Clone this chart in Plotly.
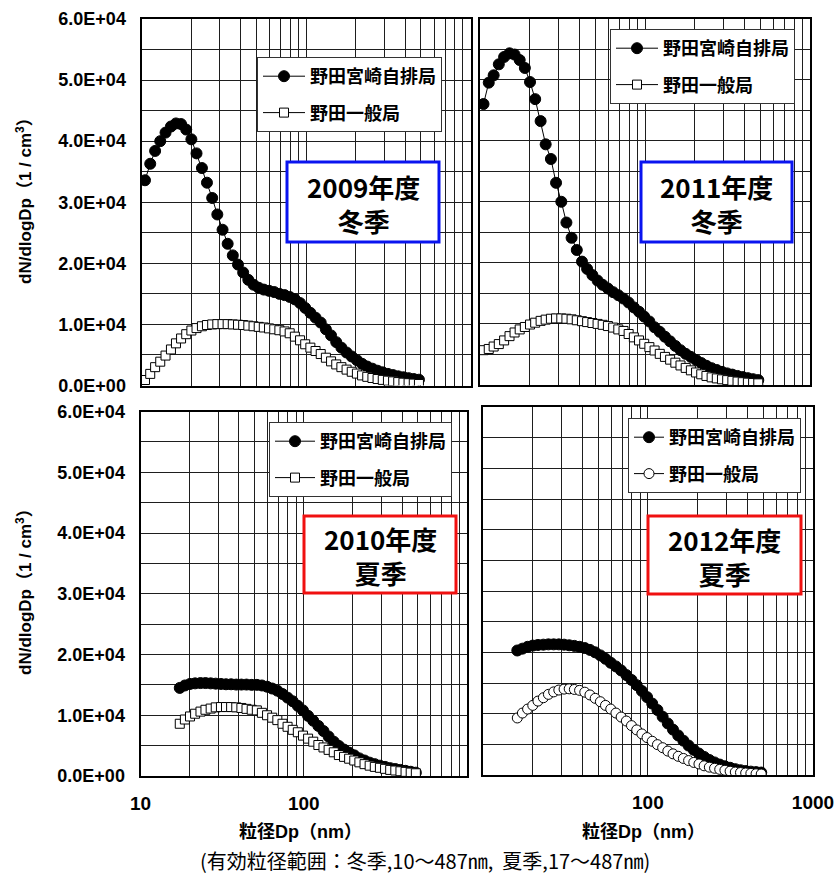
import plotly.graph_objects as go

W, H = 838, 876

# Particle diameter channels (nm)
dp_winter = [10.5, 11.3, 12.1, 13.0, 14.0, 15.1, 16.2, 17.4, 18.7, 20.1,
             21.6, 23.3, 25.0, 26.9, 28.9, 31.1, 33.4, 35.9, 38.6, 41.5,
             44.6, 48.0, 51.6, 55.4, 59.6, 64.1, 68.9, 74.1, 79.6, 85.6,
             92.0, 98.9, 106.3, 114.3, 122.9, 132.1, 142.0, 152.7, 164.1, 176.5,
             189.7, 203.9, 219.2, 235.7, 253.4, 272.4, 292.8, 314.8, 338.4, 363.8,
             391.1, 420.4, 452.0, 485.9]
dp_2010 = dp_winter[7:]
dp_2012 = dp_winter[6:]

# 2009 winter
road_2009 = [33600, 36300, 38400, 40000, 41400, 42400, 42900, 42800, 41900, 40300,
             38000, 35600, 33200, 30700, 28000, 25500, 23200, 21300, 19800, 18500,
             17300, 16500, 16000, 15700, 15500, 15300, 15000, 14800, 14500, 14100,
             13500, 12700, 11900, 11100, 10300, 9200, 8200, 7100, 6200, 5400,
             4750, 4150, 3550, 3100, 2750, 2420, 2150, 1900, 1700, 1500,
             1350, 1200, 1060, 950]
gen_2009 = [900, 1900, 3000, 3900, 4900, 5900, 6900, 7700, 8400, 9000,
            9400, 9700, 9900, 10000, 10050, 10050, 10050, 10000, 9950, 9900,
            9800, 9700, 9600, 9500, 9350, 9200, 9050, 8850, 8550, 8000,
            7400, 6750, 6200, 5650, 5150, 4550, 3950, 3450, 3000, 2600,
            2250, 1950, 1650, 1420, 1230, 1060, 920, 790, 680, 560,
            460, 380, 310, 250]

# 2011 winter
road_2011 = [46000, 49500, 50700, 52500, 53700, 54300, 54100, 53200, 51900, 49600,
             46800, 43200, 39400, 37000, 33100, 30000, 26600, 24100, 22100, 20200,
             19000, 18000, 17100, 16400, 15800, 15200, 14700, 14150, 13500, 12700,
             12000, 11200, 10400, 9450, 8700, 7900, 7150, 6400, 5700, 5100,
             4600, 4100, 3600, 3150, 2750, 2450, 2150, 1900, 1700, 1480,
             1300, 1120, 950, 800]
gen_2011 = [5700, 5900, 6300, 6700, 7300, 8000, 8600, 9100, 9500, 9900,
            10200, 10500, 10700, 10850, 10900, 10900, 10850, 10750, 10600, 10450,
            10300, 10150, 10000, 9850, 9650, 9400, 9100, 8850, 8350, 7800,
            7300, 6750, 6200, 5650, 5100, 4600, 4150, 3650, 3200, 2800,
            2400, 2050, 1750, 1480, 1250, 1080, 930, 800, 680, 560,
            460, 380, 320, 270]

# 2010 summer
road_2010 = [14500, 14900, 15150, 15250, 15300, 15300, 15250, 15200, 15150, 15100,
             15100, 15050, 15050, 15050, 15000, 15000, 14900, 14700, 14400, 14050,
             13500, 12900, 12300, 11550, 10800, 9900, 9100, 8250, 7400, 6500,
             5650, 4950, 4350, 3850, 3400, 2900, 2550, 2200, 1950, 1700,
             1500, 1290, 1150, 1000, 850, 700, 550]
gen_2010 = [8600, 9300, 9800, 10250, 10600, 10900, 11100, 11300, 11350, 11350,
            11350, 11300, 11200, 11050, 10900, 10800, 10400, 10000, 9600, 9200,
            8600, 8100, 7600, 7200, 6650, 6150, 5650, 5100, 4700, 4300,
            3900, 3450, 3150, 2850, 2550, 2250, 1950, 1700, 1500, 1350,
            1180, 1000, 900, 780, 680, 560, 450]

# 2012 summer
road_2012 = [20300, 20600, 20900, 21100, 21200, 21250, 21300, 21300, 21300, 21250,
             21150, 21050, 20900, 20700, 20400, 20000, 19500, 18950, 18300, 17700,
             17050, 16300, 15500, 14650, 13700, 12700, 11650, 10600, 9500, 8400,
             7400, 6450, 5600, 4800, 4100, 3500, 2950, 2450, 2050, 1700,
             1420, 1180, 950, 780, 650, 550, 470, 400]
gen_2012 = [9300, 10100, 10750, 11350, 12050, 12600, 13150, 13550, 13850, 14000,
            14050, 13950, 13800, 13500, 13050, 12500, 11950, 11350, 10750, 10100,
            9450, 8800, 8050, 7350, 6700, 6100, 5500, 4950, 4450, 3900,
            3450, 3050, 2700, 2350, 2050, 1800, 1500, 1280, 1100, 920,
            770, 620, 480, 400, 330, 260, 200, 160]

name_road = "野田宮崎自排局"
name_gen = "野田一般局"
panel_titles = ["2009年度<br>冬季", "2011年度<br>冬季",
                "2010年度<br>夏季", "2012年度<br>夏季"]

grid_x = [10, 20, 30, 40, 50, 60, 70, 80, 90,
          100, 200, 300, 400, 500, 600, 700, 800, 900, 1000]
grid_y = list(range(0, 60001, 5000))
y_labels = ["%.1fE+04" % (v / 10 ** 4) if v else "0.0E+00" for v in grid_y]
y_labels = [lab if v % 10000 == 0 else "" for v, lab in zip(grid_y, y_labels)]

LATIN = "Liberation Sans, Arial, Noto Sans CJK JP"
CJK = "Noto Sans CJK JP, Liberation Sans"


def fx(p):
    return p / W


def fy(p):
    return 1 - p / H


# plot areas in pixels: (left, right, top, bottom)
areas = [(141.5, 470.5, 19, 385.5), (480, 810, 18.5, 385),
         (140.5, 467, 411.5, 776), (482.7, 813, 407, 775)]
legend_pos = [(257, 57, 42), (610, 29, 42), (269, 422, 40), (628, 418, 30)]
box_pos = [(287, 439, 162, 242, "#0a14f0"), (641, 792, 162, 242, "#0a14f0"),
           (304, 456, 516, 593, "#f01010"), (648, 801, 516, 594, "#f01010")]

series = [(dp_winter, road_2009, dp_winter, gen_2009, "square"),
          (dp_winter, road_2011, dp_winter, gen_2011, "square"),
          (dp_2010, road_2010, dp_2010, gen_2010, "square"),
          (dp_2012, road_2012, dp_2012, gen_2012, "circle")]

fig = go.Figure()
for i, (xr, yr, xg, yg, sym) in enumerate(series):
    k = "" if i == 0 else str(i + 1)
    leg = "legend" + k
    fig.add_trace(go.Scatter(
        x=xr, y=yr, name=name_road, mode="lines+markers",
        xaxis="x" + k, yaxis="y" + k, legend=leg, legendgroup="r" + k,
        line=dict(color="black", width=1),
        marker=dict(symbol="circle", size=11, color="black",
                    line=dict(color="black", width=1))))
    fig.add_trace(go.Scatter(
        x=xg, y=yg, name=name_gen, mode="lines+markers",
        xaxis="x" + k, yaxis="y" + k, legend=leg, legendgroup="g" + k,
        line=dict(color="black", width=1),
        marker=dict(symbol=sym, size=10 if sym == "circle" else 9, color="white",
                    line=dict(color="black", width=1))))

layout = dict(template="none", width=W, height=H, autosize=False,
              margin=dict(l=0, r=0, t=0, b=0, pad=0, autoexpand=False),
              paper_bgcolor="white", plot_bgcolor="white", showlegend=True)

for i, (l, r, t, b) in enumerate(areas):
    k = "" if i == 0 else str(i + 1)
    left_col = i in (0, 2)
    bottom_row = i in (2, 3)
    if left_col:
        xt = ["10" if v == 10 else "100" if v == 100 else "" for v in grid_x]
    else:
        xt = ["100" if v == 100 else "1000" if v == 1000 else "" for v in grid_x]
    layout["xaxis" + k] = dict(
        type="log", range=[1, 3], domain=[fx(l), fx(r)], anchor="y" + k,
        automargin=False,
        tickmode="array", tickvals=grid_x, ticktext=xt,
        showticklabels=bottom_row, ticks="",
        tickfont=dict(family=LATIN, size=19, color="black", weight="bold"),
        ticklabelstandoff=9,
        showgrid=True, gridcolor="#1e1e1e", gridwidth=1,
        showline=True, linecolor="black", linewidth=2, mirror=True,
        zeroline=False)
    layout["yaxis" + k] = dict(
        range=[0, 60000], domain=[fy(b), fy(t)], anchor="x" + k,
        automargin=False,
        tickmode="array", tickvals=grid_y, ticktext=y_labels,
        showticklabels=left_col, ticks="",
        tickfont=dict(family=LATIN, size=18, color="black", weight="bold"),
        ticklabelstandoff=10,
        showgrid=True, gridcolor="#1e1e1e", gridwidth=1,
        showline=True, linecolor="black", linewidth=2, mirror=True,
        zeroline=False)
    lx, ly, iw = legend_pos[i]
    layout["legend" + k] = dict(
        x=fx(lx), y=fy(ly), xanchor="left", yanchor="top",
        xref="paper", yref="paper",
        bgcolor="white", bordercolor="#333333", borderwidth=1,
        font=dict(family=CJK, size=18, color="black", weight="bold"),
        tracegroupgap=10, itemwidth=iw)

fig.update_layout(**layout)

# Season / year label boxes
for (x0, x1, y0, y1, col), label in zip(box_pos, panel_titles):
    fig.add_shape(type="rect", xref="paper", yref="paper",
                  x0=fx(x0), x1=fx(x1), y0=fy(y1), y1=fy(y0),
                  line=dict(color=col, width=3), fillcolor="white", layer="above")
    fig.add_annotation(x=fx((x0 + x1) / 2), y=fy((y0 + y1) / 2 + 1),
                       xref="paper", yref="paper",
                       text=label, showarrow=False, xanchor="center", yanchor="middle",
                       font=dict(family=CJK, size=26, color="black", weight="bold"))

# Axis titles
for yc in (197, 588):
    fig.add_annotation(x=fx(24), y=fy(yc), xref="paper", yref="paper",
                       text="dN/dlogDp（1 / cm<sup>3</sup>）", textangle=-90, showarrow=False,
                       xanchor="center", yanchor="middle",
                       font=dict(family=LATIN, size=17, color="black", weight="bold"))
for xc in (300, 643):
    fig.add_annotation(x=fx(xc), y=fy(832), xref="paper", yref="paper",
                       text="粒径Dp（nm）", showarrow=False,
                       xanchor="center", yanchor="middle",
                       font=dict(family=LATIN, size=18, color="black", weight="bold"))

fig.add_annotation(x=fx(425), y=fy(860), xref="paper", yref="paper",
                   text="(有効粒径範囲：冬季,10～487㎚,\u00a0 夏季,17～487㎚)",
                   showarrow=False, xanchor="center", yanchor="middle",
                   font=dict(family=CJK, size=20, color="black"))

fig.write_html("out.html")
